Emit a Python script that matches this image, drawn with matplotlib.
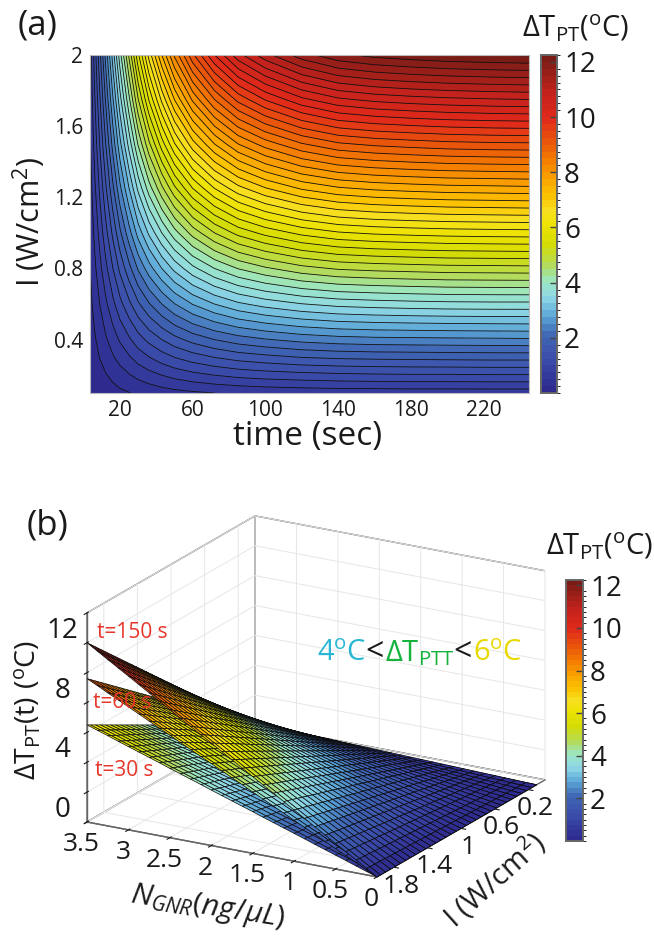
import numpy as np
import matplotlib
matplotlib.use("Agg")
import matplotlib.pyplot as plt
from matplotlib.colors import LinearSegmentedColormap, BoundaryNorm, Normalize
from matplotlib.cm import ScalarMappable
from mpl_toolkits.mplot3d import proj3d
from mpl_toolkits.mplot3d.art3d import Poly3DCollection

plt.rcParams['font.family'] = ['Open Sans', 'DejaVu Sans']
plt.rcParams['mathtext.fontset'] = 'custom'
plt.rcParams['mathtext.rm'] = 'Open Sans'
plt.rcParams['mathtext.it'] = 'Open Sans:italic'
plt.rcParams['mathtext.bf'] = 'Open Sans:bold'

W, H = 654, 936

# ---------- panel (a) values ----------
time_s = [3.5, 6, 9, 12, 16, 20, 25, 30, 36, 43, 50, 60, 72, 85, 100, 120, 140, 160, 180, 200, 225, 245]
intensity = [0.1, 0.2, 0.3, 0.4, 0.6, 0.8, 1.0, 1.25, 1.5, 1.75, 2.0]
dT_map = [
 [.03,.06,.09,.12,.16,.20,.24,.29,.33,.38,.42,.46,.50,.53,.56,.58,.60,.60,.61,.61,.61,.61],
 [.06,.11,.17,.23,.31,.39,.48,.57,.66,.75,.83,.92,1.00,1.07,1.12,1.16,1.19,1.21,1.22,1.22,1.23,1.23],
 [.09,.17,.26,.35,.47,.59,.72,.86,.99,1.13,1.25,1.38,1.50,1.60,1.67,1.75,1.79,1.81,1.82,1.83,1.84,1.84],
 [.12,.22,.34,.46,.62,.78,.96,1.14,1.32,1.50,1.66,1.84,2.00,2.13,2.23,2.33,2.39,2.42,2.43,2.44,2.45,2.46],
 [.18,.33,.51,.69,.93,1.17,1.44,1.71,1.98,2.25,2.49,2.76,3.00,3.20,3.35,3.49,3.58,3.62,3.65,3.67,3.68,3.68],
 [.24,.44,.68,.92,1.24,1.56,1.92,2.28,2.64,3.00,3.32,3.68,4.00,4.26,4.46,4.66,4.78,4.83,4.86,4.89,4.90,4.91],
 [.30,.55,.85,1.15,1.55,1.95,2.40,2.85,3.30,3.75,4.15,4.60,5.00,5.33,5.58,5.82,5.97,6.04,6.08,6.11,6.13,6.14],
 [.38,.69,1.06,1.44,1.94,2.44,3.00,3.56,4.13,4.69,5.19,5.75,6.25,6.66,6.98,7.28,7.46,7.55,7.60,7.64,7.66,7.68],
 [.45,.83,1.28,1.73,2.33,2.93,3.60,4.28,4.95,5.63,6.23,6.90,7.50,8.00,8.37,8.73,8.96,9.06,9.12,9.17,9.20,9.21],
 [.53,.96,1.49,2.01,2.71,3.41,4.20,4.99,5.78,6.56,7.26,8.05,8.75,9.33,9.77,10.19,10.45,10.57,10.64,10.69,10.73,10.75],
 [.60,1.10,1.70,2.30,3.10,3.90,4.80,5.70,6.60,7.50,8.30,9.20,10.00,10.66,11.16,11.64,11.94,12.08,12.16,12.22,12.26,12.28],
]
contour_levels = [i * 0.25 for i in range(0, 50)]
time_ticks = [20, 60, 100, 140, 180, 220]
I_ticks_a = [0.4, 0.8, 1.2, 1.6, 2.0]
I_ticklabels_a = ['0.4', '0.8', '1.2', '1.6', '2']
cbar_ticks = [2, 4, 6, 8, 10, 12]

# ---------- panel (b) values ----------
N_levels = [0, .125, .25, .375, .5, .625, .75, .875, 1, 1.125, 1.25, 1.375, 1.5, 1.625, 1.75,
            1.875, 2, 2.125, 2.25, 2.375, 2.5, 2.625, 2.75, 2.875, 3, 3.125, 3.25, 3.375, 3.5]
I_levels = [.10, .16, .22, .28, .34, .40, .46, .52, .58, .64, .70, .76, .82, .88, .94, 1.00, 1.06,
            1.12, 1.18, 1.24, 1.30, 1.36, 1.42, 1.48, 1.54, 1.60, 1.66, 1.72, 1.78, 1.84, 1.90, 1.96, 2.0]
edge_30s = [0, .23, .46, .70, .93, 1.16, 1.39, 1.63, 1.86, 2.09, 2.32, 2.55, 2.79, 3.02, 3.25,
            3.48, 3.71, 3.95, 4.18, 4.41, 4.64, 4.88, 5.11, 5.34, 5.57, 5.80, 6.04, 6.27, 6.5]
edge_60s = [0, .34, .69, 1.03, 1.37, 1.71, 2.06, 2.40, 2.74, 3.09, 3.43, 3.77, 4.11, 4.46, 4.80,
            5.14, 5.49, 5.83, 6.17, 6.51, 6.86, 7.20, 7.54, 7.89, 8.23, 8.57, 8.91, 9.26, 9.6]
edge_150s = [0, .43, .86, 1.29, 1.71, 2.14, 2.57, 3.00, 3.43, 3.86, 4.29, 4.71, 5.14, 5.57, 6.00,
             6.43, 6.86, 7.29, 7.71, 8.14, 8.57, 9.00, 9.43, 9.86, 10.29, 10.71, 11.14, 11.57, 12.0]
N_ticks = [0, .5, 1, 1.5, 2, 2.5, 3, 3.5]
N_ticklabels = ['0', '0.5', '1', '1.5', '2', '2.5', '3', '3.5']
I_ticks_b = [0.2, 0.6, 1.0, 1.4, 1.8]
I_ticklabels_b = ['0.2', '0.6', '1', '1.4', '1.8']
Z_ticks = [0, 2, 4, 6, 8, 10, 12, 14]
Z_ticklabels = ['0', '', '4', '', '8', '', '12', '']

# ---------- colour map ----------
VMAX = 12.25
cmap_stops = [(0, '#2e2a8e'), (0.95, '#3a48a8'), (2, '#3f66b4'), (2.7, '#5ca7d8'), (3.4, '#8fd8e6'),
              (4, '#9be6c4'), (4.6, '#b4dc5a'), (5.3, '#d2dc08'), (6, '#ece300'), (6.6, '#f7e020'),
              (7.2, '#fdc000'), (7.9, '#f99d00'), (8.5, '#f37a00'), (9.3, '#e84e0e'), (10, '#e0291a'),
              (10.9, '#c6231c'), (11.6, '#9f1f1a'), (12.25, '#7a1c16')]
cmap = LinearSegmentedColormap.from_list('dT', [(v / VMAX, c) for v, c in cmap_stops], N=512)


def rect(l, t, r, b):
    return [l / W, 1 - b / H, (r - l) / W, (b - t) / H]


def px_text(x, y, s, **kw):
    return fig.text(x / W, 1 - y / H, s, **kw)


fig = plt.figure(figsize=(W / 100, H / 100), dpi=100)

# ---------- panel (a) ----------
axa = fig.add_axes(rect(90, 55, 529, 393))
norm_a = BoundaryNorm(contour_levels, cmap.N)
cf = axa.contourf(time_s, intensity, dT_map, levels=contour_levels, cmap=cmap, norm=norm_a, extend='max')
axa.contour(time_s, intensity, dT_map, levels=contour_levels[1:], colors='#111111', linewidths=0.6)
axa.set_xlim(3.5, 245)
axa.set_ylim(0.1, 2.0)
axa.set_xticks(time_ticks)
axa.set_yticks(I_ticks_a, I_ticklabels_a)
axa.tick_params(length=0, labelsize=15, colors='#1a1a1a', pad=5)
for s in axa.spines.values():
    s.set_color('#bbbbbb')
    s.set_linewidth(0.8)
px_text(308, 437, 'time (sec)', fontsize=24, ha='center', va='center', color='#1a1a1a')
px_text(29, 222, 'I (W/cm$^2$)', fontsize=22, ha='center', va='center', rotation=90, color='#1a1a1a')
px_text(38, 26, '(a)', fontsize=25, ha='center', va='center', color='#1a1a1a')
TITLE = r'$\mathrm{\Delta T}_{\mathrm{PT}}(^{\mathrm{o}}\mathrm{C})$'
px_text(576, 28, TITLE, fontsize=21, ha='center', va='center', color='#1a1a1a')


def colorbar(box):
    cax = fig.add_axes(rect(*box))
    sm = ScalarMappable(norm=BoundaryNorm(contour_levels, cmap.N), cmap=cmap)
    cb = fig.colorbar(sm, cax=cax, ticks=cbar_ticks, spacing='proportional', drawedges=False)
    cax.set_ylim(0, VMAX)
    cax.tick_params(direction='in', length=5, width=1, color='#444444', labelsize=20,
                    labelcolor='#1a1a1a', pad=5)
    cb.outline.set_edgecolor('#666666')
    cb.outline.set_linewidth(1.4)
    return cb


colorbar((541, 55, 557, 393))

# ---------- panel (b) ----------
axb = fig.add_axes([0, 0.03, 1, W / H], projection='3d')
axb.patch.set_visible(False)
axb.set_proj_type('ortho')
axb.view_init(elev=19.3, azim=119.8)
aspect = (334, 338, 221.5)
axb.set_box_aspect(aspect)
axb.set_xlim(0, 3.5)
axb.set_ylim(0, 2)
axb.set_zlim(0, 14)

N_arr = np.array(N_levels)
I_arr = np.array(I_levels)
verts, vals = [], []
for edge in (edge_30s, edge_60s, edge_150s):
    Z = np.outer(I_arr / 2.0, np.array(edge))
    for i in range(len(I_arr) - 1):
        for j in range(len(N_arr) - 1):
            verts.append([(N_arr[j], I_arr[i], Z[i, j]), (N_arr[j + 1], I_arr[i], Z[i, j + 1]),
                          (N_arr[j + 1], I_arr[i + 1], Z[i + 1, j + 1]), (N_arr[j], I_arr[i + 1], Z[i + 1, j])])
            vals.append((Z[i, j] + Z[i, j + 1] + Z[i + 1, j + 1] + Z[i + 1, j]) / 4)
surf = Poly3DCollection(verts, facecolors=cmap(Normalize(0, VMAX)(np.array(vals))),
                        edgecolors='#0c0c0c', linewidths=0.5)
axb.add_collection3d(surf)

axb.set_xticks(N_ticks, N_ticklabels)
axb.set_yticks(I_ticks_b, I_ticklabels_b)
axb.set_zticks(Z_ticks, Z_ticklabels)
axb.tick_params(axis='x', labelsize=19, pad=0, colors='#1a1a1a')
axb.tick_params(axis='y', labelsize=19, pad=-2, colors='#1a1a1a')
axb.tick_params(axis='z', labelsize=20, pad=5, colors='#1a1a1a')
axb.zaxis.set_ticks_position('upper')
for t in axb.zaxis.get_ticklabels():
    t.set_va('bottom')
for a in (axb.xaxis, axb.yaxis, axb.zaxis):
    a.set_pane_color((1, 1, 1, 1))
    a.pane.set_edgecolor('#666666')
    a.pane.set_linewidth(1.0)
    a.line.set_color('#666666')
    a.line.set_linewidth(1.0)
    a._axinfo['grid'].update(color='#e6e6e6', linewidth=0.7)
    a._axinfo['tick'].update(color='#666666')


# fit the box onto its place in the figure
def to_px(x, y, z):
    X, Y, _ = proj3d.proj_transform(x, y, z, axb.get_proj())
    return axb.transData.transform((X, Y))


fig.canvas.draw()
span = to_px(0, 0, 0)[0] - to_px(3.5, 2, 0)[0]
axb.set_box_aspect(aspect, zoom=458 / span)
fig.canvas.draw()
p = to_px(3.5, 2, 0)
pos = axb.get_position()
axb.set_position([pos.x0 + (87 - p[0]) / W, pos.y0 + ((H - 822) - p[1]) / H, pos.width, pos.height])

RED = '#e8352a'
px_text(97, 632, 't=150 s', fontsize=15, color=RED, ha='left', va='center')
px_text(93, 702, 't=60 s', fontsize=15, color=RED, ha='left', va='center')
px_text(95, 771, 't=30 s', fontsize=15, color=RED, ha='left', va='center')
px_text(47, 525, '(b)', fontsize=25, ha='center', va='center', color='#1a1a1a')
px_text(28, 710, r'$\mathrm{\Delta T}_{\mathrm{PT}}\mathrm{(t)\ (^{o}C)}$', fontsize=20.5, rotation=90,
        ha='center', va='center', color='#1a1a1a')
px_text(208, 907, r'$\mathit{N}_{\mathit{GNR}}\mathit{(ng/\mu L)}$', fontsize=21.5, rotation=-9,
        ha='center', va='center', color='#1a1a1a')
px_text(494, 880, 'I (W/cm$^2$)', fontsize=21, rotation=42, ha='center', va='center', color='#1a1a1a')

CYAN, GREEN, YELLOW = '#29b6d2', '#13b33c', '#e8d900'
px_text(317, 661, r'$\mathrm{4^{o}C}$', fontsize=21, color=CYAN, ha='left', va='baseline')
px_text(365, 661, '<', fontsize=23, color='#1a1a1a', ha='left', va='baseline')
px_text(385, 661, r'$\mathrm{\Delta T}_{\mathrm{PTT}}$', fontsize=21, color=GREEN, ha='left', va='baseline')
px_text(453, 661, '<', fontsize=23, color='#1a1a1a', ha='left', va='baseline')
px_text(473, 661, r'$\mathrm{6^{o}C}$', fontsize=21, color=YELLOW, ha='left', va='baseline')

px_text(600, 546, TITLE, fontsize=21, ha='center', va='center', color='#1a1a1a')
colorbar((566, 580, 583, 841))

fig.savefig('out.png', dpi=100)
